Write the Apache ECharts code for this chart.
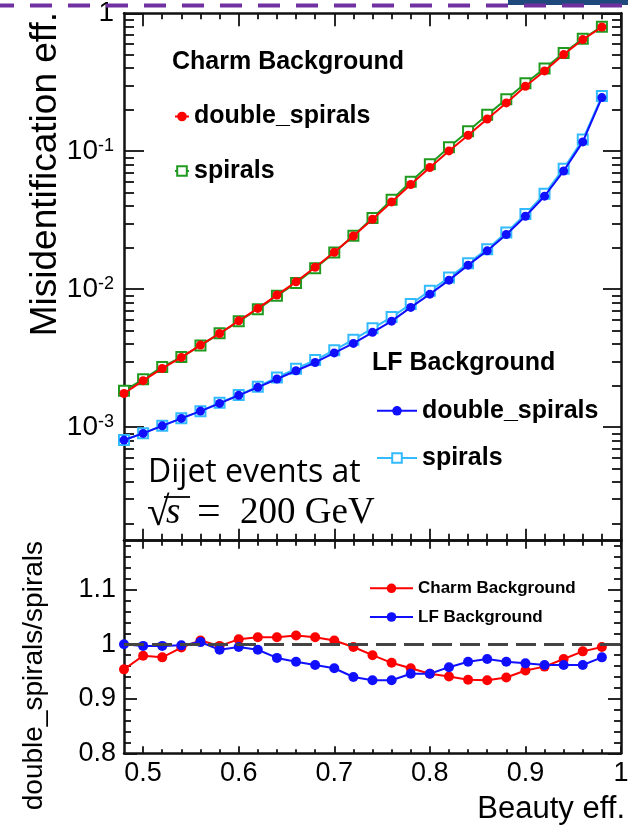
<!DOCTYPE html>
<html>
<head>
<meta charset="utf-8">
<script src="https://cdn.jsdelivr.net/npm/echarts@6/dist/echarts.min.js"></script>
<style>
html,body{margin:0;padding:0;background:#fff;}
#c{width:628px;height:826px;}
</style>
</head>
<body>
<div id="c"></div>
<script>
// ---------------- data ----------------
const beautyEff = [0.48,0.50,0.52,0.54,0.56,0.58,0.60,0.62,0.64,0.66,0.68,0.70,0.72,0.74,0.76,0.78,0.80,0.82,0.84,0.86,0.88,0.90,0.92,0.94,0.96,0.98];

const charmDoubleSpirals = [0.00175,0.00217,0.00266,0.00320,0.00393,0.00477,0.00589,0.00725,0.00906,0.0113,0.0144,0.0185,0.0243,0.0321,0.0429,0.0574,0.0762,0.1005,0.1306,0.1714,0.2239,0.296,0.382,0.502,0.645,0.796];
const charmSpirals       = [0.00183,0.00222,0.00273,0.00322,0.00390,0.00478,0.00584,0.00716,0.00894,0.0111,0.0142,0.0184,0.0244,0.0328,0.0444,0.0600,0.0806,0.1068,0.1397,0.1835,0.2384,0.311,0.398,0.516,0.654,0.800];
const lfDoubleSpirals    = [0.000805,0.000900,0.001021,0.001155,0.001305,0.001485,0.001698,0.001941,0.00223,0.00256,0.00294,0.00345,0.00404,0.00486,0.00586,0.00737,0.00920,0.01162,0.01493,0.01896,0.0249,0.0338,0.0472,0.0719,0.1168,0.2449];
const lfSpirals          = [0.000805,0.000903,0.001024,0.001157,0.001300,0.001500,0.001707,0.001961,0.00229,0.00265,0.00306,0.00361,0.00430,0.00520,0.00627,0.00779,0.00973,0.01213,0.01542,0.01949,0.0257,0.0350,0.0491,0.0747,0.1214,0.2509];

const ratioCharm = [0.954,0.979,0.976,0.994,1.007,0.997,1.009,1.013,1.013,1.016,1.013,1.007,0.995,0.980,0.966,0.956,0.946,0.941,0.935,0.934,0.939,0.952,0.959,0.973,0.987,0.995];
const ratioLF    = [1.000,0.997,0.997,0.998,1.004,0.990,0.995,0.990,0.975,0.968,0.962,0.956,0.940,0.934,0.934,0.946,0.946,0.958,0.968,0.973,0.968,0.965,0.962,0.962,0.962,0.976];

const xMajorTicks = [0.5,0.6,0.7,0.8,0.9,1.0];
const xMinorTicks = [0.52,0.54,0.56,0.58,0.62,0.64,0.66,0.68,0.72,0.74,0.76,0.78,0.82,0.84,0.86,0.88,0.92,0.94,0.96,0.98];
const yLogMajorTicks = [0.001,0.01,0.1,1];
const yLogMinorTicks = [0.0002,0.0003,0.0004,0.0005,0.0006,0.0007,0.0008,0.0009,
                        0.002,0.003,0.004,0.005,0.006,0.007,0.008,0.009,
                        0.02,0.03,0.04,0.05,0.06,0.07,0.08,0.09,
                        0.2,0.3,0.4,0.5,0.6,0.7,0.8,0.9];
const yRatioMajorTicks = [0.8,0.9,1.0,1.1];
const yRatioMinorTicks = [0.82,0.84,0.86,0.88,0.92,0.94,0.96,0.98,1.02,1.04,1.06,1.08,1.12,1.14,1.16,1.18];

// ---------------- styles ----------------
const FONT = '"Liberation Sans", Arial, Helvetica, sans-serif';
const INK = '#111';
const RED = '#ff0000', GREEN = '#1f9a1f', BLUE = '#1010ff', LIGHTBLUE = '#33bbff';

const zip = (xs, ys) => xs.map((x, i) => [x, ys[i]]);

function xAxisDef(grid, pos, ticks, len, showLine, withLabels) {
  return {
    type: 'value', gridIndex: grid, position: pos, min: 0.48, max: 1.0,
    axisLine: { show: showLine, onZero: false, lineStyle: { color: INK, width: 2.5 } },
    axisTick: { show: true, inside: true, length: len, customValues: ticks, lineStyle: { color: INK, width: 1.8 } },
    axisLabel: withLabels ? {
      show: true, customValues: xMajorTicks, margin: 7,
      fontFamily: FONT, fontSize: 27, color: '#000',
      formatter: v => (Math.abs(v - 1) < 1e-9 ? '1' : v.toFixed(1))
    } : { show: false },
    splitLine: { show: false }, minorTick: { show: false }, minorSplitLine: { show: false }
  };
}
function yLogDef(pos, ticks, len, showLine, withLabels) {
  return {
    type: 'log', logBase: 10, gridIndex: 0, position: pos, min: 1.5e-4, max: 1,
    axisLine: { show: showLine, onZero: false, lineStyle: { color: INK, width: 2.5 } },
    axisTick: { show: true, inside: true, length: len, customValues: ticks, lineStyle: { color: INK, width: 1.8 } },
    axisLabel: withLabels ? {
      show: true, customValues: yLogMajorTicks, margin: 10,
      fontFamily: FONT, fontSize: 27, color: '#000',
      formatter: v => {
        if (v > 0.99) return '{b|1}';
        const e = Math.round(Math.log10(v));
        return '{b|10}{s|' + e + '}';
      },
      rich: {
        b: { fontFamily: FONT, fontSize: 28, color: '#000' },
        s: { fontFamily: FONT, fontSize: 18, color: '#000', verticalAlign: 'top' }
      }
    } : { show: false },
    splitLine: { show: false }, minorTick: { show: false }, minorSplitLine: { show: false }
  };
}
function yRatioDef(pos, ticks, len, showLine, withLabels) {
  return {
    type: 'value', gridIndex: 1, position: pos, min: 0.8, max: 1.19,
    axisLine: { show: showLine, onZero: false, lineStyle: { color: INK, width: 2.5 } },
    axisTick: { show: true, inside: true, length: len, customValues: ticks, lineStyle: { color: INK, width: 1.8 } },
    axisLabel: withLabels ? {
      show: true, customValues: yRatioMajorTicks, margin: 8,
      fontFamily: FONT, fontSize: 27, color: '#000',
      formatter: v => (Math.abs(v - 1) < 1e-9 ? '1' : v.toFixed(1))
    } : { show: false },
    splitLine: { show: false }, minorTick: { show: false }, minorSplitLine: { show: false }
  };
}

const chart = echarts.init(document.getElementById('c'), null, { renderer: 'canvas' });

const option = {
  backgroundColor: '#ffffff',
  animation: false,
  grid: [
    { left: 124, top: 13.3, width: 497, height: 527.4, outerBoundsMode: 'none', containLabel: false },
    { left: 124, top: 540.7, width: 497, height: 212.6, outerBoundsMode: 'none', containLabel: false }
  ],
  xAxis: [
    xAxisDef(0, 'bottom', xMajorTicks, 12, true, false),
    xAxisDef(0, 'bottom', xMinorTicks, 7, false, false),
    xAxisDef(0, 'top', xMajorTicks, 13, true, false),
    xAxisDef(0, 'top', xMinorTicks, 6, false, false),
    xAxisDef(1, 'bottom', xMajorTicks, 7, true, true),
    xAxisDef(1, 'bottom', xMinorTicks, 4, false, false),
    xAxisDef(1, 'top', xMajorTicks, 8, true, false),
    xAxisDef(1, 'top', xMinorTicks, 5, false, false)
  ],
  yAxis: [
    yLogDef('left', yLogMajorTicks, 20, true, true),
    yLogDef('left', yLogMinorTicks, 10, false, false),
    yLogDef('right', yLogMajorTicks, 18, true, false),
    yLogDef('right', yLogMinorTicks, 9, false, false),
    yRatioDef('left', yRatioMajorTicks, 13, true, true),
    yRatioDef('left', yRatioMinorTicks, 7, false, false),
    yRatioDef('right', yRatioMajorTicks, 13, true, false),
    yRatioDef('right', yRatioMinorTicks, 7, false, false)
  ],
  legend: [
    {
      data: ['charm|double_spirals', 'charm|spirals'],
      orient: 'vertical', left: 174, top: 104, padding: 0,
      itemWidth: 14, itemHeight: 12, itemGap: 29.5, selectedMode: false,
      formatter: n => n.split('|')[1],
      textStyle: { fontFamily: FONT, fontWeight: 'bold', fontSize: 25, lineHeight: 25, color: '#000' }
    },
    {
      data: ['lf|double_spirals', 'lf|spirals'],
      orient: 'vertical', left: 376, top: 398.3, padding: 0,
      itemWidth: 40, itemHeight: 12, itemGap: 22.2, selectedMode: false,
      formatter: n => n.split('|')[1],
      textStyle: { fontFamily: FONT, fontWeight: 'bold', fontSize: 25, lineHeight: 25, color: '#000' }
    },
    {
      data: ['Charm Background', 'LF Background'],
      orient: 'vertical', left: 369, top: 579.8, padding: 0,
      itemWidth: 43, itemHeight: 12, itemGap: 11.7, selectedMode: false,
      textStyle: { fontFamily: FONT, fontWeight: 'bold', fontSize: 17, lineHeight: 17, color: '#000' }
    }
  ],
  series: [
    {
      name: 'charm|spirals', type: 'line', xAxisIndex: 0, yAxisIndex: 0,
      data: zip(beautyEff, charmSpirals),
      symbol: 'emptyRect', symbolSize: 10,
      lineStyle: { color: GREEN, width: 2 }, itemStyle: { color: GREEN, borderWidth: 1.5 }, z: 2
    },
    {
      name: 'charm|double_spirals', type: 'line', xAxisIndex: 0, yAxisIndex: 0,
      data: zip(beautyEff, charmDoubleSpirals),
      symbol: 'circle', symbolSize: 9,
      lineStyle: { color: RED, width: 2 }, itemStyle: { color: RED }, z: 3
    },
    {
      name: 'lf|spirals', type: 'line', xAxisIndex: 0, yAxisIndex: 0,
      data: zip(beautyEff, lfSpirals),
      symbol: 'emptyRect', symbolSize: 10,
      lineStyle: { color: LIGHTBLUE, width: 2 }, itemStyle: { color: LIGHTBLUE, borderWidth: 1.5 }, z: 2
    },
    {
      name: 'lf|double_spirals', type: 'line', xAxisIndex: 0, yAxisIndex: 0,
      data: zip(beautyEff, lfDoubleSpirals),
      symbol: 'circle', symbolSize: 9,
      lineStyle: { color: BLUE, width: 2 }, itemStyle: { color: BLUE }, z: 3
    },
    {
      name: 'unity', type: 'line', xAxisIndex: 4, yAxisIndex: 4, data: [], z: 1,
      markLine: {
        silent: true, symbol: 'none', label: { show: false },
        lineStyle: { color: '#444', width: 3, type: [20, 8] },
        data: [{ yAxis: 1 }]
      }
    },
    {
      name: 'Charm Background', type: 'line', xAxisIndex: 4, yAxisIndex: 4,
      data: zip(beautyEff, ratioCharm),
      symbol: 'circle', symbolSize: 10,
      lineStyle: { color: RED, width: 2 }, itemStyle: { color: RED }, z: 3
    },
    {
      name: 'LF Background', type: 'line', xAxisIndex: 4, yAxisIndex: 4,
      data: zip(beautyEff, ratioLF),
      symbol: 'circle', symbolSize: 10,
      lineStyle: { color: BLUE, width: 2 }, itemStyle: { color: BLUE }, z: 3
    }
  ],
  graphic: [
    { type: 'rect', shape: { x: 508, y: 0, width: 120, height: 5 }, style: { fill: '#1f497d' }, z: 10 },
    { type: 'line', shape: { x1: 0, y1: 5.5, x2: 628, y2: 5.5 }, style: { stroke: '#7030a0', lineWidth: 4, lineDash: [22, 16], lineDashOffset: 8 }, z: 11 },
    { type: 'text', x: 46, y: 12, rotation: Math.PI / 2, z: 10,
      style: { text: 'Misidentification eff.', fontFamily: FONT, fontSize: 37, fill: '#000', align: 'right', textAlign: 'right', verticalAlign: 'middle', textVerticalAlign: 'middle' } },
    { type: 'text', x: 34, y: 541, rotation: Math.PI / 2, z: 10,
      style: { text: 'double_spirals/spirals', fontFamily: FONT, fontSize: 28, fill: '#000', align: 'right', textAlign: 'right', verticalAlign: 'middle', textVerticalAlign: 'middle' } },
    { type: 'text', x: 625, y: 809, z: 10,
      style: { text: 'Beauty eff.', fontFamily: FONT, fontSize: 31, fill: '#000', align: 'right', textAlign: 'right', verticalAlign: 'middle', textVerticalAlign: 'middle' } },
    { type: 'text', x: 172, y: 62, z: 10,
      style: { text: 'Charm Background', fontFamily: FONT, fontWeight: 'bold', fontSize: 25, fill: '#000', align: 'left', textAlign: 'left', verticalAlign: 'middle', textVerticalAlign: 'middle' } },
    { type: 'text', x: 372, y: 363, z: 10,
      style: { text: 'LF Background', fontFamily: FONT, fontWeight: 'bold', fontSize: 25, fill: '#000', align: 'left', textAlign: 'left', verticalAlign: 'middle', textVerticalAlign: 'middle' } },
    { type: 'text', x: 148, y: 473, z: 10,
      style: { text: 'Dijet events at', fontFamily: '"Open Sans", sans-serif', fontSize: 32, fill: '#000', align: 'left', textAlign: 'left', verticalAlign: 'middle', textVerticalAlign: 'middle' } },
    { type: 'text', x: 147, y: 514, z: 10,
      style: { text: '\u221A', fontFamily: '"Liberation Serif", "DejaVu Serif", serif', fontSize: 41, fill: '#000', align: 'left', textAlign: 'left', verticalAlign: 'middle', textVerticalAlign: 'middle' } },
    { type: 'line', shape: { x1: 164, y1: 497, x2: 190, y2: 497 }, style: { stroke: '#000', lineWidth: 1.8 }, z: 10 },
    { type: 'text', x: 166, y: 513, z: 10,
      style: { text: 's', fontFamily: '"Liberation Serif", serif', fontStyle: 'italic', fontSize: 37, fill: '#000', align: 'left', textAlign: 'left', verticalAlign: 'middle', textVerticalAlign: 'middle' } },
    { type: 'text', x: 197, y: 513, z: 10,
      style: { text: '=', fontFamily: '"Liberation Serif", serif', fontSize: 42, fill: '#000', align: 'left', textAlign: 'left', verticalAlign: 'middle', textVerticalAlign: 'middle' } },
    { type: 'text', x: 240, y: 513, z: 10,
      style: { text: '200 GeV', fontFamily: '"Liberation Serif", serif', fontSize: 37, fill: '#000', align: 'left', textAlign: 'left', verticalAlign: 'middle', textVerticalAlign: 'middle' } }
  ]
};

chart.setOption(option);
</script>
</body>
</html>
